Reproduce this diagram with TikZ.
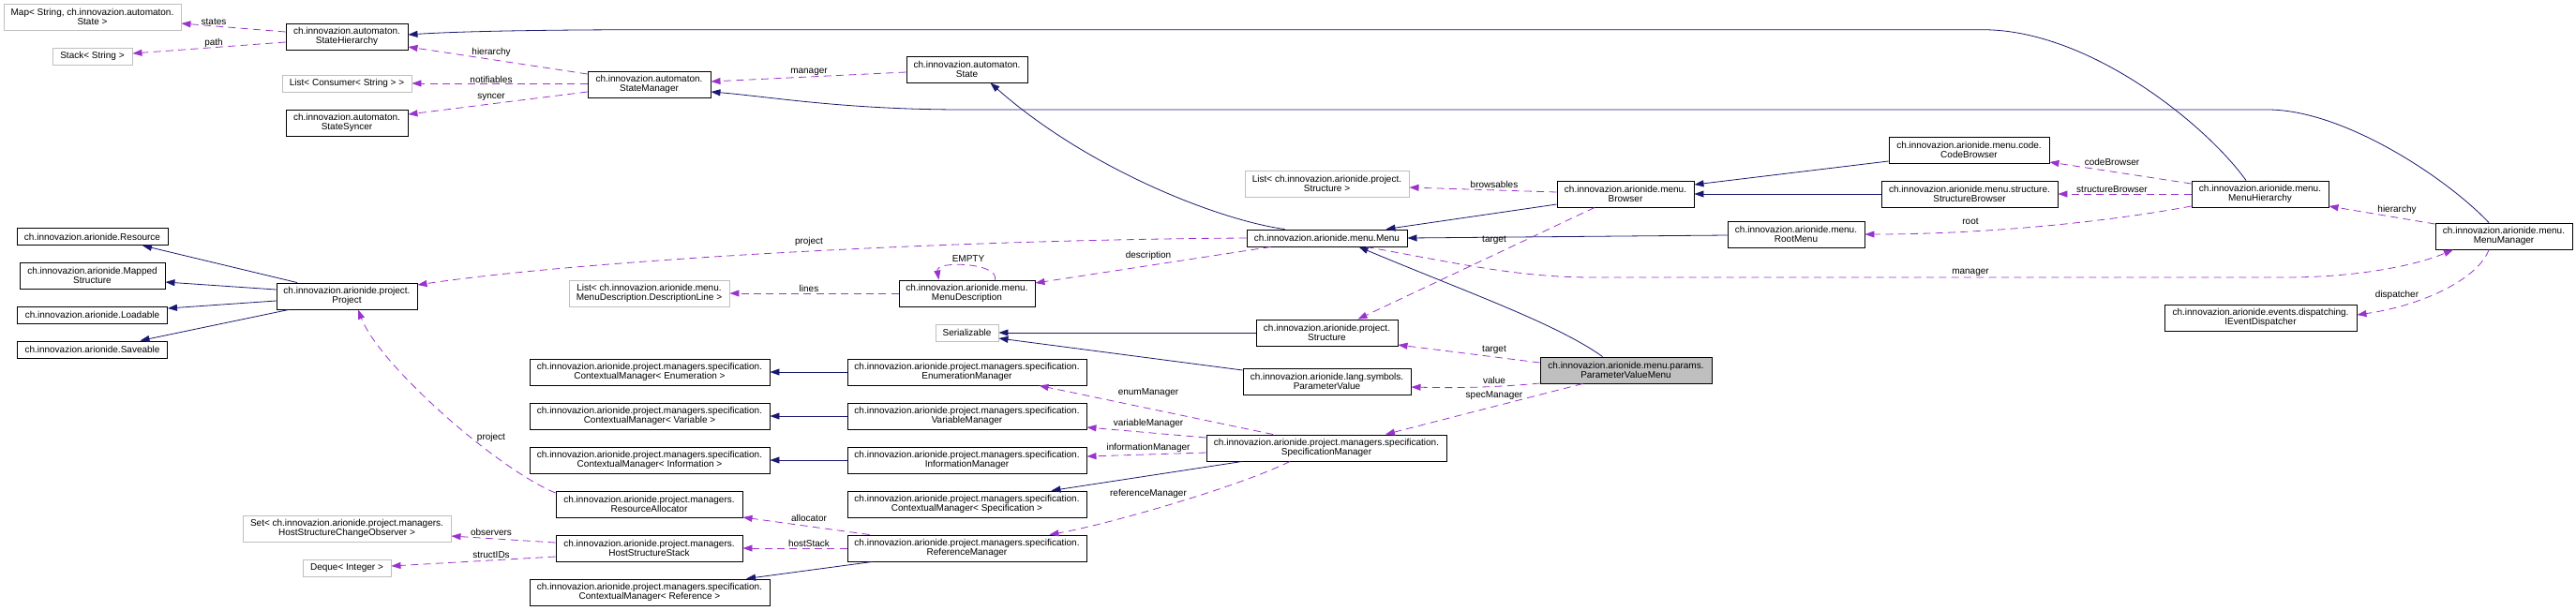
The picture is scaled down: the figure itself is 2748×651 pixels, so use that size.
\documentclass[tikz,border=0pt]{standalone}
\usepackage{fontspec}
\setmainfont{Liberation Sans}
\usetikzlibrary{arrows.meta,calc}
\definecolor{navyc}{HTML}{191970}
\definecolor{purp}{HTML}{9A32CD}
\definecolor{greyl}{HTML}{BFBFBF}
\tikzset{
  box/.style={draw=black, line width=0.7pt, fill=white, inner sep=0pt, align=center,
    font=\fontsize{7.5}{7.5}\selectfont, text=black},
  undoc/.style={box, draw=greyl},
  focus/.style={box, fill=greyl},
  inh/.style={draw=navyc, line width=0.6pt, -{Triangle[length=7.5pt,width=5.25pt]}},
  use/.style={draw=purp, line width=0.6pt, dash pattern=on 6pt off 4pt, -{Triangle[length=7.5pt,width=5.25pt]}},
  lbl/.style={font=\fontsize{7.5}{7.5}\selectfont, inner sep=0pt, text=black},
}
\newcommand{\cls}[6]{\node[#5, minimum width=#3*0.75pt, minimum height=#4*0.75pt] (#1) at (#2) {#6};}
\begin{document}
\begin{tikzpicture}[x=0.75pt,y=-0.75pt]
\useasboundingbox (0,0) rectangle (2748,651);
% ---------- classes ----------
\cls{map}{98.5,18}{189}{28}{undoc}{Map< String, ch.innovazion.automaton.\\State >}
\cls{stack}{98.5,60}{85}{18}{undoc}{Stack< String >}
\cls{sh}{370,39}{130}{28}{box}{ch.innovazion.automaton.\\StateHierarchy}
\cls{lcons}{370,89}{138}{18}{undoc}{List< Consumer< String > >}
\cls{ssync}{370,131}{130}{28}{box}{ch.innovazion.automaton.\\StateSyncer}
\cls{sm}{692.5,90}{131}{28}{box}{ch.innovazion.automaton.\\StateManager}
\cls{state}{1031.5,74}{129}{28}{box}{ch.innovazion.automaton.\\State}
\cls{resource}{98.5,252.5}{161}{18}{box}{ch.innovazion.arionide.Resource}
\cls{mapped}{98.5,294}{155}{28}{box}{ch.innovazion.arionide.Mapped\\Structure}
\cls{loadable}{98.5,336}{160}{18}{box}{ch.innovazion.arionide.Loadable}
\cls{saveable}{98.5,373}{160}{18}{box}{ch.innovazion.arionide.Saveable}
\cls{project}{370,316}{150}{28}{box}{ch.innovazion.arionide.project.\\Project}
\cls{ldesc}{692.5,313}{171}{28}{undoc}{List< ch.innovazion.arionide.menu.\\MenuDescription.DescriptionLine >}
\cls{mdesc}{1031.5,313}{145}{28}{box}{ch.innovazion.arionide.menu.\\MenuDescription}
\cls{lstruct}{1415.5,196}{175}{28}{undoc}{List< ch.innovazion.arionide.project.\\Structure >}
\cls{menu}{1415.5,254}{171}{18}{box}{ch.innovazion.arionide.menu.Menu}
\cls{browser}{1734,207}{146}{28}{box}{ch.innovazion.arionide.menu.\\Browser}
\cls{codeb}{2100.5,160}{171}{28}{box}{ch.innovazion.arionide.menu.code.\\CodeBrowser}
\cls{structb}{2101,207}{188}{28}{box}{ch.innovazion.arionide.menu.structure.\\StructureBrowser}
\cls{rootm}{1916,250}{146}{28}{box}{ch.innovazion.arionide.menu.\\RootMenu}
\cls{mhier}{2411,207}{146}{28}{box}{ch.innovazion.arionide.menu.\\MenuHierarchy}
\cls{mman}{2671,252}{146}{28}{box}{ch.innovazion.arionide.menu.\\MenuManager}
\cls{ied}{2411.5,339}{205}{28}{box}{ch.innovazion.arionide.events.dispatching.\\IEventDispatcher}
\cls{serial}{1031.5,355}{67}{18}{undoc}{Serializable}
\cls{structure}{1415.5,355}{151}{28}{box}{ch.innovazion.arionide.project.\\Structure}
\cls{pvalue}{1415.5,407}{179}{28}{box}{ch.innovazion.arionide.lang.symbols.\\ParameterValue}
\cls{pvm}{1734.5,395}{183}{28}{focus}{ch.innovazion.arionide.menu.params.\\ParameterValueMenu}
\cls{specm}{1415,478}{256}{28}{box}{ch.innovazion.arionide.project.managers.specification.\\SpecificationManager}
\cls{cmenum}{693,397}{256}{28}{box}{ch.innovazion.arionide.project.managers.specification.\\ContextualManager< Enumeration >}
\cls{cmvar}{693,444}{256}{28}{box}{ch.innovazion.arionide.project.managers.specification.\\ContextualManager< Variable >}
\cls{cminfo}{693,491}{256}{28}{box}{ch.innovazion.arionide.project.managers.specification.\\ContextualManager< Information >}
\cls{resalloc}{692.5,538}{199}{28}{box}{ch.innovazion.arionide.project.managers.\\ResourceAllocator}
\cls{hss}{692.5,585}{199}{28}{box}{ch.innovazion.arionide.project.managers.\\HostStructureStack}
\cls{cmref}{693,632}{256}{28}{box}{ch.innovazion.arionide.project.managers.specification.\\ContextualManager< Reference >}
\cls{enumm}{1031.5,397}{255}{28}{box}{ch.innovazion.arionide.project.managers.specification.\\EnumerationManager}
\cls{varm}{1031.5,444}{255}{28}{box}{ch.innovazion.arionide.project.managers.specification.\\VariableManager}
\cls{infom}{1031.5,491}{255}{28}{box}{ch.innovazion.arionide.project.managers.specification.\\InformationManager}
\cls{cmspec}{1031.5,538}{255}{28}{box}{ch.innovazion.arionide.project.managers.specification.\\ContextualManager< Specification >}
\cls{refm}{1031.5,585}{255}{28}{box}{ch.innovazion.arionide.project.managers.specification.\\ReferenceManager}
\cls{setobs}{370,564}{222}{28}{undoc}{Set< ch.innovazion.arionide.project.managers.\\HostStructureChangeObserver >}
\cls{deque}{370,606}{94}{18}{undoc}{Deque< Integer >}
% ---------- inheritance ----------
\draw[inh] ($(mhier.north)+(-15,0)$) .. controls (2355,135) and (2230,31.7) .. (2115,31.7) -- (700,31.7) .. controls (560,31.7) and (480,34) .. ($(sh.east)+(0,-2)$);
\draw[inh] ($(mman.north)+(-16,0)$) .. controls (2610,190) and (2500,117) .. (2419,117) -- (1028,117) .. controls (900,117) and (820,103) .. ($(sm.east)+(0,8)$);
\draw[inh] ($(menu.north)+(-45,0)$) .. controls (1300,235) and (1160,180) .. ($(state.south)+(25,0)$);
\draw[inh] ($(browser.west)+(0,11)$) -- ($(menu.north)+(63,0)$);
\draw[inh] ($(codeb.west)+(0,12)$) -- ($(browser.east)+(0,-10)$);
\draw[inh] (structb.west) -- (browser.east);
\draw[inh] ($(rootm.west)+(0,1)$) -- (menu.east);
\draw[inh] ($(pvm.north)+(-25,0)$) .. controls (1660,345) and (1560,310) .. ($(menu.south)+(34,0)$);
\draw[inh] (structure.west) -- (serial.east);
\draw[inh] ($(pvalue.west)+(0,-12)$) -- ($(serial.east)+(0,6)$);
\draw[inh] (enumm.west) -- (cmenum.east);
\draw[inh] (varm.west) -- (cmvar.east);
\draw[inh] (infom.west) -- (cminfo.east);
\draw[inh] ($(specm.south)+(-90,0)$) -- ($(cmspec.north)+(90,0)$);
\draw[inh] ($(refm.south)+(-101,0)$) -- ($(cmref.north)+(103,0)$);
\draw[inh] ($(project.north)+(-53,0)$) -- ($(resource.south)+(53.5,0)$);
\draw[inh] ($(project.west)+(0,-7)$) -- ($(mapped.east)+(0,7)$);
\draw[inh] ($(project.west)+(0,5)$) -- ($(loadable.east)+(0,-7)$);
\draw[inh] ($(project.south)+(-62,0)$) -- ($(saveable.north)+(51,0)$);
% ---------- usage ----------
\draw[use] ($(sh.west)+(0,-5)$) -- ($(map.east)+(0,7)$);
\draw[use] ($(sh.west)+(0,6)$) -- ($(stack.east)+(0,-3)$);
\draw[use] ($(sm.west)+(0,-11)$) -- ($(sh.east)+(0,11)$);
\draw[use] ($(sm.west)+(0,-1)$) -- (lcons.east);
\draw[use] ($(sm.west)+(0,8)$) -- ($(ssync.east)+(0,-9)$);
\draw[use] ($(state.west)+(0,3)$) -- ($(sm.east)+(0,-3)$);
\draw[use] (menu.west) .. controls (1000,256) and (620,278) .. ($(project.east)+(0,-12)$);
\draw[use] ($(menu.south)+(-60,0)$) -- ($(mdesc.east)+(0,-11)$);
\draw[use] ($(mdesc.north)+(30,0)$) .. controls (1066,280) and (998,278) .. ($(mdesc.north)+(-30,0)$);
\draw[use] (mdesc.west) -- (ldesc.east);
\draw[use] ($(browser.west)+(0,-2)$) -- ($(lstruct.east)+(0,4)$);
\draw[use] ($(browser.south)+(-33,0)$) -- ($(structure.north)+(33,0)$);
\draw[use] ($(menu.south)+(42,0)$) .. controls (1560,282) and (1620,296) .. (1700,296) -- (2436,296) .. controls (2520,296) and (2580,282) .. ($(mman.south)+(-54,0)$);
\draw[use] ($(mhier.west)+(0,13)$) .. controls (2230,240) and (2100,250) .. (rootm.east);
\draw[use] ($(mhier.west)+(0,-11)$) -- ($(codeb.east)+(0,13)$);
\draw[use] (mhier.west) -- (structb.east);
\draw[use] ($(mman.west)+(0,-13)$) -- ($(mhier.east)+(0,13)$);
\draw[use] ($(mman.south)+(-16,0)$) .. controls (2645,295) and (2590,325) .. ($(ied.east)+(0,-3)$);
\draw[use] ($(pvm.west)+(0,-8)$) -- ($(structure.east)+(0,13)$);
\draw[use] ($(pvm.west)+(0,14)$) .. controls (1590,414) and (1545,414) .. ($(pvalue.east)+(0,6)$);
\draw[use] ($(pvm.south)+(-46,0)$) -- ($(specm.north)+(63,0)$);
\draw[use] ($(specm.north)+(-57,0)$) -- ($(enumm.south)+(77,0)$);
\draw[use] ($(specm.west)+(0,-11)$) -- ($(varm.east)+(0,12)$);
\draw[use] ($(specm.west)+(0,5)$) -- ($(infom.east)+(0,-4)$);
\draw[use] ($(specm.south)+(-39,0)$) .. controls (1320,520) and (1180,560) .. ($(refm.north)+(88,0)$);
\draw[use] ($(refm.north)+(-104,0)$) -- ($(resalloc.east)+(0,14)$);
\draw[use] (refm.west) -- (hss.east);
\draw[use] ($(resalloc.west)+(0,-12)$) .. controls (530,500) and (405,390) .. ($(project.south)+(12,0)$);
\draw[use] ($(hss.west)+(0,-6)$) -- ($(setobs.east)+(0,8)$);
\draw[use] ($(hss.west)+(0,9)$) -- ($(deque.east)+(0,-2)$);
% ---------- labels ----------
\node[lbl] (t1) at (228,23) {states};
\node[lbl] (t2) at (228,46) {path};
\node[lbl] (t3) at (524,56) {hierarchy};
\node[lbl] (t4) at (524,85) {notifiables};
\node[lbl] (t5) at (524,104) {syncer};
\node[lbl] (t6) at (863,77) {manager};
\node[lbl] (t7) at (863,258) {project};
\node[lbl] (t8) at (1225,273) {description};
\node[lbl] (t9) at (1033,276) {EMPTY};
\node[lbl] (t10) at (863,308) {lines};
\node[lbl] (t11) at (1594,197) {browsables};
\node[lbl] (t12) at (1594,256) {target};
\node[lbl] (t13) at (1594,373) {target};
\node[lbl] (t14) at (1594,406) {value};
\node[lbl] (t15) at (1594,422) {specManager};
\node[lbl] (t16) at (2102,291) {manager};
\node[lbl] (t17) at (2102,236) {root};
\node[lbl] (t18) at (2253,173) {codeBrowser};
\node[lbl] (t19) at (2253,202) {structureBrowser};
\node[lbl] (t20) at (2557,224) {hierarchy};
\node[lbl] (t21) at (2557,315) {dispatcher};
\node[lbl] (t22) at (1225,419) {enumManager};
\node[lbl] (t23) at (1225,452) {variableManager};
\node[lbl] (t24) at (1225,478) {informationManager};
\node[lbl] (t25) at (1225,527) {referenceManager};
\node[lbl] (t26) at (863,553) {allocator};
\node[lbl] (t27) at (863,580) {hostStack};
\node[lbl] (t28) at (524,467) {project};
\node[lbl] (t29) at (524,568) {observers};
\node[lbl] (t30) at (524,592) {structIDs};
\end{tikzpicture}
\end{document}
